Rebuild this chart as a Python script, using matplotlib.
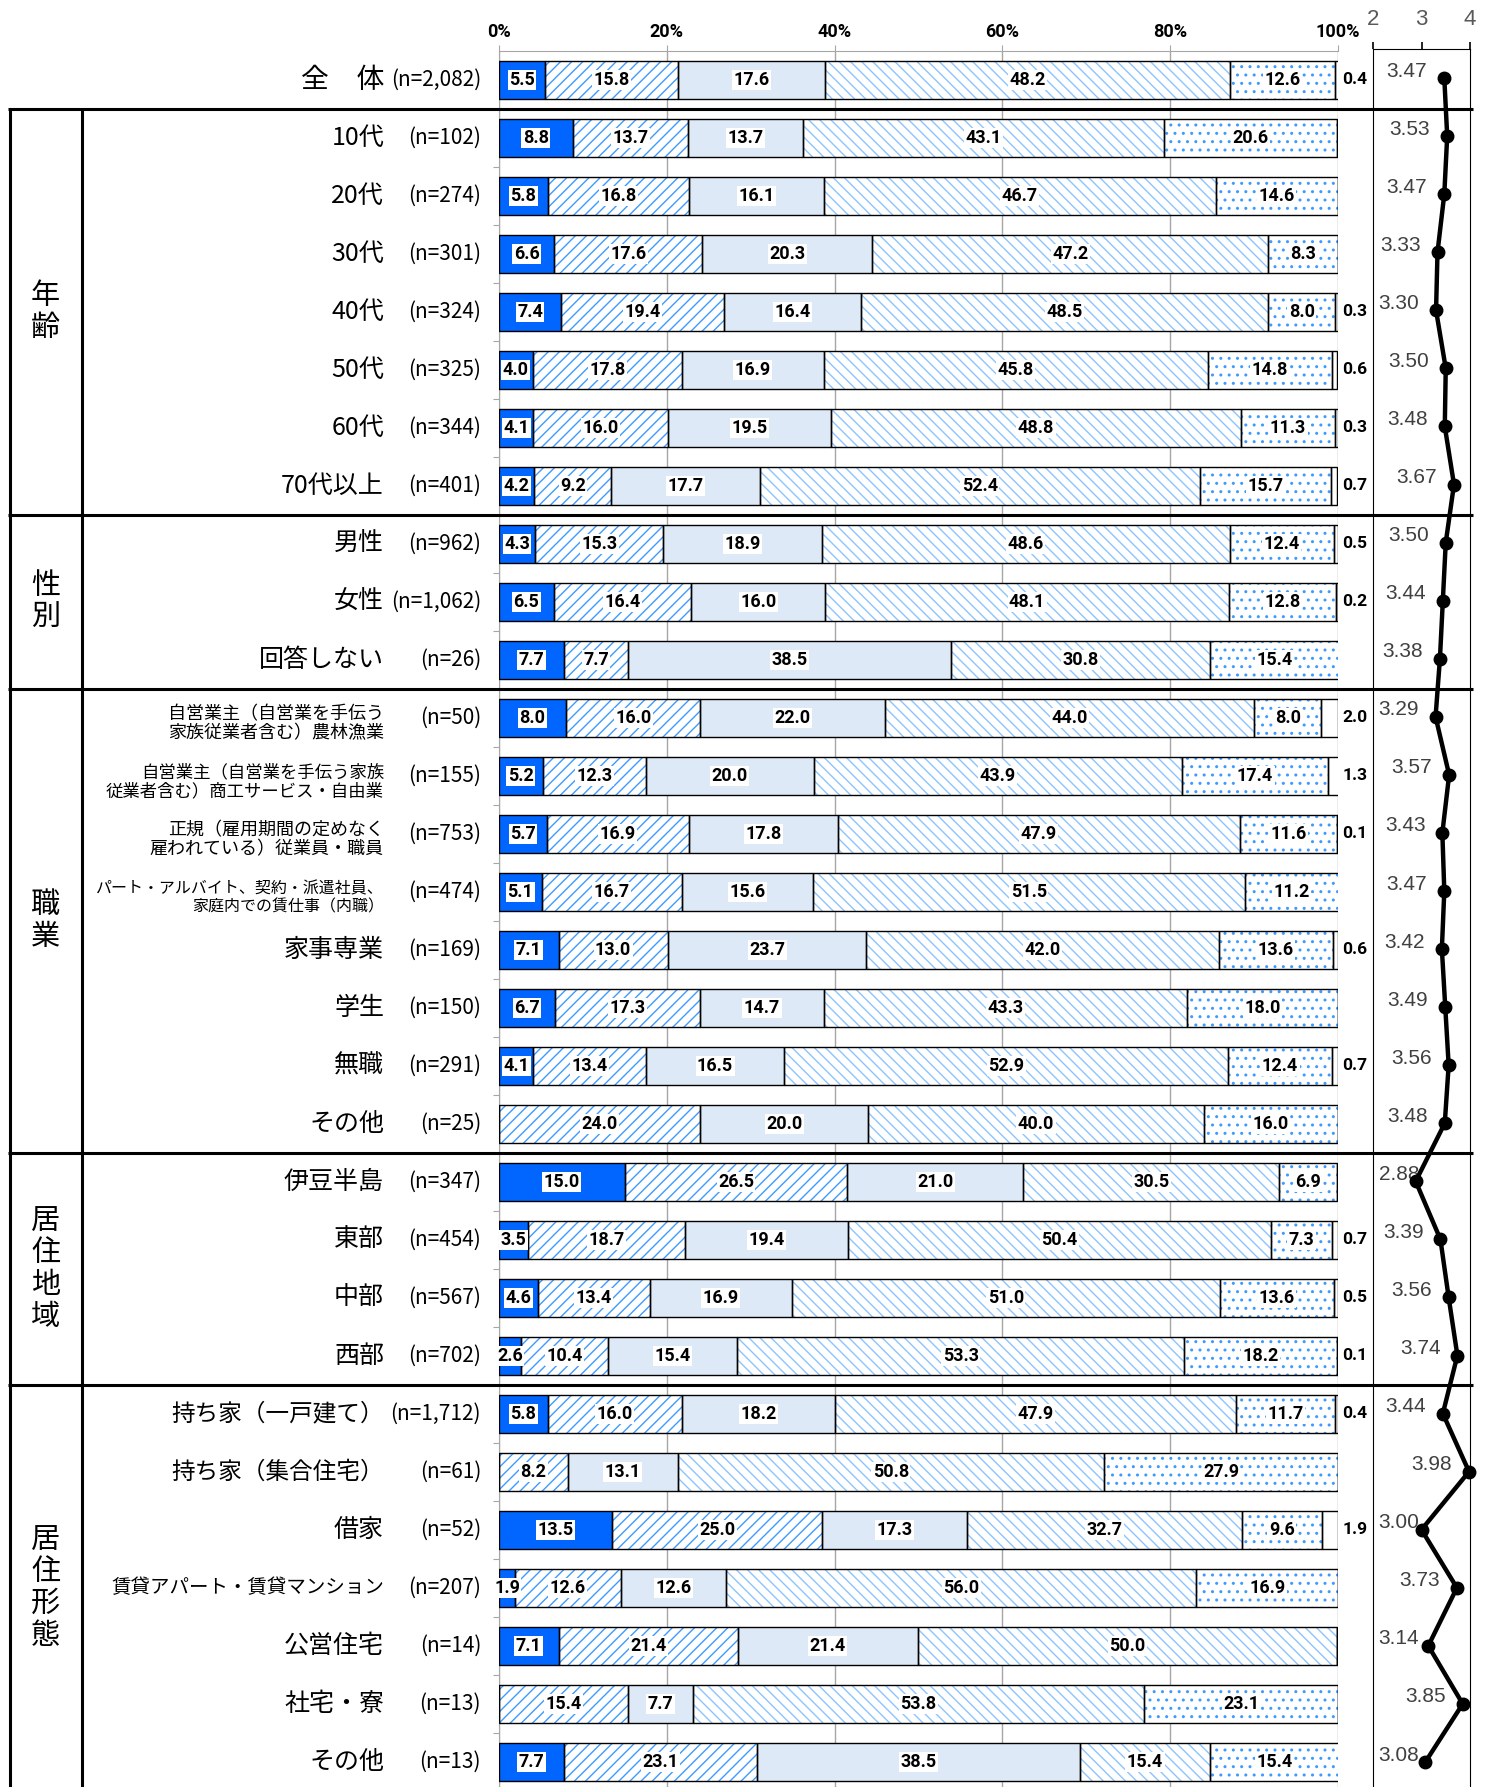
import numpy as np
import matplotlib
matplotlib.use("Agg")
import matplotlib.pyplot as plt

plt.rcParams['font.family'] = ['Noto Sans CJK JP', 'DejaVu Sans']
plt.rcParams['hatch.linewidth'] = 1.0

# rows, top to bottom
row_names = [
    "全　体",
    "10代", "20代", "30代", "40代", "50代", "60代", "70代以上",
    "男性", "女性", "回答しない",
    "自営業主（自営業を手伝う\n家族従業者含む）農林漁業",
    "自営業主（自営業を手伝う家族\n従業者含む）商工サービス・自由業",
    "正規（雇用期間の定めなく\n雇われている）従業員・職員",
    "パート・アルバイト、契約・派遣社員、\n家庭内での賃仕事（内職）",
    "家事専業", "学生", "無職", "その他",
    "伊豆半島", "東部", "中部", "西部",
    "持ち家（一戸建て）", "持ち家（集合住宅）", "借家",
    "賃貸アパート・賃貸マンション", "公営住宅", "社宅・寮", "その他",
]
sample_sizes = [
    "(n=2,082)",
    "(n=102)", "(n=274)", "(n=301)", "(n=324)", "(n=325)", "(n=344)", "(n=401)",
    "(n=962)", "(n=1,062)", "(n=26)",
    "(n=50)", "(n=155)", "(n=753)", "(n=474)", "(n=169)", "(n=150)", "(n=291)", "(n=25)",
    "(n=347)", "(n=454)", "(n=567)", "(n=702)",
    "(n=1,712)", "(n=61)", "(n=52)", "(n=207)", "(n=14)", "(n=13)", "(n=13)",
]

# share of answers (%) for score 1..5 and no answer
score1 = [5.5, 8.8, 5.8, 6.6, 7.4, 4.0, 4.1, 4.2, 4.3, 6.5, 7.7, 8.0, 5.2, 5.7, 5.1,
          7.1, 6.7, 4.1, 0.0, 15.0, 3.5, 4.6, 2.6, 5.8, 0.0, 13.5, 1.9, 7.1, 0.0, 7.7]
score2 = [15.8, 13.7, 16.8, 17.6, 19.4, 17.8, 16.0, 9.2, 15.3, 16.4, 7.7, 16.0, 12.3, 16.9, 16.7,
          13.0, 17.3, 13.4, 24.0, 26.5, 18.7, 13.4, 10.4, 16.0, 8.2, 25.0, 12.6, 21.4, 15.4, 23.1]
score3 = [17.6, 13.7, 16.1, 20.3, 16.4, 16.9, 19.5, 17.7, 18.9, 16.0, 38.5, 22.0, 20.0, 17.8, 15.6,
          23.7, 14.7, 16.5, 20.0, 21.0, 19.4, 16.9, 15.4, 18.2, 13.1, 17.3, 12.6, 21.4, 7.7, 38.5]
score4 = [48.2, 43.1, 46.7, 47.2, 48.5, 45.8, 48.8, 52.4, 48.6, 48.1, 30.8, 44.0, 43.9, 47.9, 51.5,
          42.0, 43.3, 52.9, 40.0, 30.5, 50.4, 51.0, 53.3, 47.9, 50.8, 32.7, 56.0, 50.0, 53.8, 15.4]
score5 = [12.6, 20.6, 14.6, 8.3, 8.0, 14.8, 11.3, 15.7, 12.4, 12.8, 15.4, 8.0, 17.4, 11.6, 11.2,
          13.6, 18.0, 12.4, 16.0, 6.9, 7.3, 13.6, 18.2, 11.7, 27.9, 9.6, 16.9, 0.0, 23.1, 15.4]
no_answer = [0.4, 0.0, 0.0, 0.0, 0.3, 0.6, 0.3, 0.7, 0.5, 0.2, 0.0, 2.0, 1.3, 0.1, 0.0,
             0.6, 0.0, 0.7, 0.0, 0.0, 0.7, 0.5, 0.1, 0.4, 0.0, 1.9, 0.0, 0.0, 0.0, 0.0]

means = [3.47, 3.53, 3.47, 3.33, 3.30, 3.50, 3.48, 3.67, 3.50, 3.44, 3.38, 3.29, 3.57, 3.43, 3.47,
         3.42, 3.49, 3.56, 3.48, 2.88, 3.39, 3.56, 3.74, 3.44, 3.98, 3.00, 3.73, 3.14, 3.85, 3.08]

groups = [("年\n齢", 1, 7), ("性\n別", 8, 10), ("職\n業", 11, 18),
          ("居\n住\n地\n域", 19, 22), ("居\n住\n形\n態", 23, 29)]

# layout (pixels)
W, H = 1488, 1787
top_px, row_px = 51, 58
n_rows = len(row_names)
y_low = (H - top_px) / row_px - 0.5
ax_h = (H - top_px) / H

BLUE = '#0066FF'
HATCH = '#3D9BFF'
LIGHT = '#DDE9F6'
GRID = '#A6A6A6'
NUMF = ['Roboto', 'DejaVu Sans']

fig = plt.figure(figsize=(W / 100, H / 100), dpi=100)

# ---- stacked bars ----
ax = fig.add_axes([499 / W, 0, (1338 - 499) / W, ax_h])
rows = np.arange(n_rows)
series = [score1, score2, score3, score4, score5, no_answer]
faces = [BLUE, 'white', LIGHT, 'white', 'white', 'white']
hatches = [None, '///', None, '\\\\\\', '..', None]
hatch_cols = [HATCH, HATCH, HATCH, '#8CC4FF', HATCH, HATCH]

left = np.zeros(n_rows)
for k, vals in enumerate(series):
    vals = np.array(vals)
    ax.barh(rows, vals, left=left, height=0.64, color=faces[k], hatch=hatches[k],
            edgecolor=hatch_cols[k], linewidth=0, zorder=2)
    ax.barh(rows, vals, left=left, height=0.64, fill=False, edgecolor='black',
            linewidth=1.0, zorder=3)
    for i in range(n_rows):
        v = vals[i]
        if v <= 0:
            continue
        if k < 5:
            ax.text(left[i] + v / 2, i, f"{v:.1f}", ha='center', va='center',
                    fontsize=13, fontweight='bold', family=NUMF, zorder=4,
                    bbox=dict(fc='white', ec='none', pad=1.0))
        else:
            ax.annotate(f"{v:.1f}", xy=(100, i), xytext=(3, 0), textcoords='offset points',
                        ha='left', va='center', fontsize=12.5, fontweight='bold',
                        family=NUMF, annotation_clip=False)
    left += vals

ax.set_xlim(0, 100)
ax.set_ylim(y_low, -0.5)
ax.xaxis.tick_top()
ax.set_xticks(range(0, 101, 20))
ax.set_xticklabels([f"{t}%" for t in range(0, 101, 20)], fontweight='bold',
                   family=NUMF, fontsize=13)
ax.set_yticks(np.arange(0.5, n_rows - 1, 1))
ax.set_yticklabels([])
ax.tick_params(axis='x', length=4, color=GRID, pad=3)
ax.tick_params(axis='y', length=4, color=GRID)
ax.grid(axis='x', color=GRID, lw=1)
ax.set_axisbelow(True)
for s in ['right', 'bottom']:
    ax.spines[s].set_visible(False)
for s in ['top', 'left']:
    ax.spines[s].set_color(GRID)

# ---- mean score panel ----
ax2 = fig.add_axes([1373 / W, 0, (1470 - 1373) / W, ax_h + 2 / H])
ax2.patch.set_alpha(0)
ax2.plot(means, rows, color='black', lw=3.2, marker='o', ms=9, clip_on=False, zorder=5)
for i, v in enumerate(means):
    ax2.annotate(f"{v:.2f}", xy=(max(v - 0.35, 2.95), i), xytext=(0, 5),
                 textcoords='offset points', ha='right', va='center', fontsize=15,
                 color='#404040', family=['Liberation Sans', 'DejaVu Sans'])
ax2.set_xlim(2, 4)
ax2.set_ylim(y_low, -0.5)
ax2.xaxis.tick_top()
ax2.set_xticks([2, 3, 4])
ax2.set_yticks([])
ax2.tick_params(axis='x', length=5, width=1.2, pad=9, labelsize=16, labelcolor='#595959')
for lab in ax2.get_xticklabels():
    lab.set_family(['Liberation Sans', 'DejaVu Sans'])
ax2.spines['bottom'].set_visible(False)

# ---- table frame and row labels ----
ov = fig.add_axes([0, 0, 1, ax_h], zorder=10)
ov.set_xlim(0, W)
ov.set_ylim(y_low, -0.5)
ov.patch.set_alpha(0)
ov.axis('off')

for yb in [0.5, 7.5, 10.5, 18.5, 22.5]:
    ov.plot([8, 1473], [yb, yb], color='black', lw=2.2, clip_on=False, solid_capstyle='butt')
for xb in [9.5, 82]:
    ov.plot([xb, xb], [0.5, y_low], color='black', lw=2.2, clip_on=False, solid_capstyle='butt')

size_of = {0: 20, 23: 17, 24: 17, 26: 14, 12: 12.5, 14: 11.5}
for i in range(n_rows):
    two_line = "\n" in row_names[i]
    fs = size_of.get(i, 13 if two_line else 18)
    ov.text(384, i + (0.1 if two_line else 0), row_names[i], ha='right',
            va='center', fontsize=fs, linespacing=1.05)
    ov.text(481, i, sample_sizes[i], ha='right', va='center', fontsize=15)

for name, a, b in groups:
    ov.text(45.5, (a + b) / 2, name, ha='center', va='center', fontsize=21, linespacing=1.1)

fig.savefig("out.png", dpi=100)
